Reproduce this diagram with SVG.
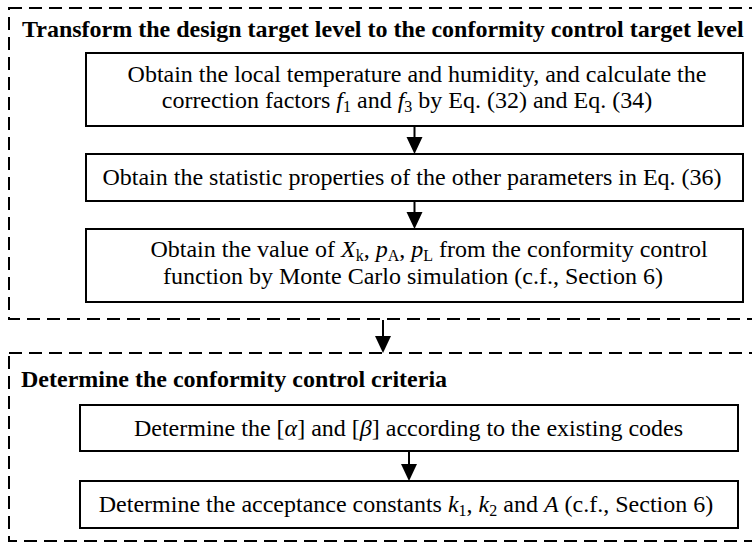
<svg xmlns="http://www.w3.org/2000/svg" width="752" height="544" viewBox="0 0 752 544">
<defs>
<style>
.dash{fill:none;stroke:#000;stroke-width:2;stroke-dasharray:13 7}
.box{fill:#fff;stroke:#000;stroke-width:2}
.t{font-family:"Liberation Serif","Times New Roman",serif;font-size:24px;fill:#000;text-anchor:middle}
.h{font-family:"Liberation Serif","Times New Roman",serif;font-size:24px;font-weight:bold;fill:#000}
.i{font-style:italic}
.s{font-size:16px}
.ln{stroke:#000;stroke-width:2;fill:none}
</style>
</defs>
<rect width="752" height="544" fill="#fff"/>
<g id="group1">
<rect class="dash" x="9" y="8" width="760" height="311"/>
<text class="h" x="22" y="37">Transform the design target level to the conformity control target level</text>
</g>
<g id="group2">
<rect class="dash" x="9" y="353" width="760" height="188"/>
<text class="h" x="21" y="387">Determine the conformity control criteria</text>
</g>
<g id="connectors">
<line class="ln" x1="414.5" y1="126" x2="414.5" y2="140"/>
<path d="M406.5,137 L422.5,137 L414.5,154 Z"/>
<line class="ln" x1="414.5" y1="201" x2="414.5" y2="215"/>
<path d="M406.5,212 L422.5,212 L414.5,229 Z"/>
<line class="ln" x1="383" y1="320" x2="383" y2="339"/>
<path d="M375,336 L391,336 L383,353 Z"/>
<line class="ln" x1="409" y1="451" x2="409" y2="467"/>
<path d="M401,464 L417,464 L409,481 Z"/>
</g>
<g id="n1">
<rect class="box" x="86" y="53" width="657" height="73"/>
<text class="t" x="417" y="82">Obtain the local temperature and humidity, and calculate the</text>
<text class="t" x="407" y="108">correction factors <tspan class="i">f</tspan><tspan class="s" dy="4">1</tspan><tspan dy="-4"> and </tspan><tspan class="i">f</tspan><tspan class="s" dy="4">3</tspan><tspan dy="-4"> by Eq. (32) and Eq. (34)</tspan></text>
</g>
<g id="n2">
<rect class="box" x="86" y="154" width="657" height="47"/>
<text class="t" x="412" y="185">Obtain the statistic properties of the other parameters in Eq. (36)</text>
</g>
<g id="n3">
<rect class="box" x="86" y="229" width="657" height="73"/>
<text class="t" x="429" y="257">Obtain the value of <tspan class="i">X</tspan><tspan class="s" dy="4">k</tspan><tspan dy="-4">, </tspan><tspan class="i">p</tspan><tspan class="s" dy="4">A</tspan><tspan dy="-4">, </tspan><tspan class="i">p</tspan><tspan class="s" dy="4">L</tspan><tspan dy="-4"> from the conformity control</tspan></text>
<text class="t" x="413" y="284">function by Monte Carlo simulation (c.f., Section 6)</text>
</g>
<g id="n4">
<rect class="box" x="80" y="405" width="658" height="46"/>
<text class="t" x="408.5" y="436">Determine the [<tspan class="i">α</tspan>] and [<tspan class="i">β</tspan>] according to the existing codes</text>
</g>
<g id="n5">
<rect class="box" x="80" y="481" width="658" height="47"/>
<text class="t" x="406" y="512">Determine the acceptance constants <tspan class="i">k</tspan><tspan class="s" dy="4">1</tspan><tspan dy="-4">, </tspan><tspan class="i">k</tspan><tspan class="s" dy="4">2</tspan><tspan dy="-4"> and </tspan><tspan class="i">A</tspan> (c.f., Section 6)</text>
</g>
</svg>
